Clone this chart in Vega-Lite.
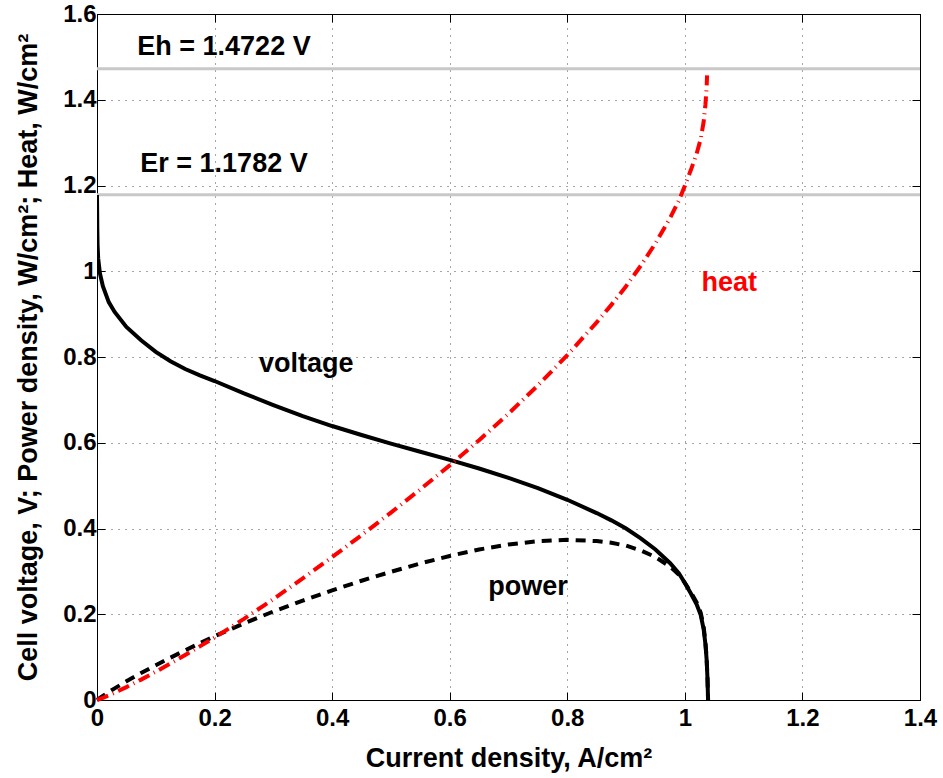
{
  "$schema": "https://vega.github.io/schema/vega-lite/v6.json",
  "width": 823,
  "height": 686,
  "autosize": "none",
  "padding": {"left": 97, "top": 14, "right": 23, "bottom": 78},
  "background": "white",
  "config": {
    "view": {"stroke": "#000", "strokeWidth": 1},
    "font": "Liberation Sans",
    "axis": {
      "labelFont": "Liberation Sans", "labelFontWeight": "bold", "labelFontSize": 24, "labelColor": "#000",
      "titleFont": "Liberation Sans", "titleFontWeight": "bold", "titleFontSize": 27, "titleColor": "#000",
      "domainColor": "#000", "tickColor": "#000", "gridColor": "#000", "gridOpacity": 0.7, "gridDash": [1, 6], "gridWidth": 1
    }
  },
  "datasets": {
    "voltage": [
      {"i": 0, "v": 1.178}, {"i": 0.0005, "v": 1.10}, {"i": 0.001, "v": 1.06}, {"i": 0.002, "v": 1.03},
      {"i": 0.005, "v": 0.995}, {"i": 0.01, "v": 0.965}, {"i": 0.02, "v": 0.928}, {"i": 0.03, "v": 0.905},
      {"i": 0.05, "v": 0.870}, {"i": 0.075, "v": 0.839}, {"i": 0.1, "v": 0.812}, {"i": 0.125, "v": 0.790},
      {"i": 0.15, "v": 0.772}, {"i": 0.175, "v": 0.757}, {"i": 0.2, "v": 0.744}, {"i": 0.25, "v": 0.715},
      {"i": 0.3, "v": 0.688}, {"i": 0.35, "v": 0.662}, {"i": 0.4, "v": 0.639}, {"i": 0.45, "v": 0.618},
      {"i": 0.5, "v": 0.598}, {"i": 0.55, "v": 0.579}, {"i": 0.6, "v": 0.560}, {"i": 0.65, "v": 0.540},
      {"i": 0.7, "v": 0.518}, {"i": 0.75, "v": 0.494}, {"i": 0.8, "v": 0.467}, {"i": 0.85, "v": 0.436},
      {"i": 0.875, "v": 0.419}, {"i": 0.9, "v": 0.400}, {"i": 0.925, "v": 0.377}, {"i": 0.95, "v": 0.351},
      {"i": 0.975, "v": 0.319}, {"i": 0.99, "v": 0.295}, {"i": 1.0, "v": 0.273}, {"i": 1.01, "v": 0.249},
      {"i": 1.02, "v": 0.223}, {"i": 1.027, "v": 0.198}, {"i": 1.032, "v": 0.165}, {"i": 1.035, "v": 0.130},
      {"i": 1.037, "v": 0.095}, {"i": 1.0385, "v": 0.05}, {"i": 1.0395, "v": 0}
    ],
    "power": [
      {"i": 0, "v": 0}, {"i": 0.005, "v": 0.005}, {"i": 0.01, "v": 0.00965}, {"i": 0.02, "v": 0.01856},
      {"i": 0.03, "v": 0.02715}, {"i": 0.05, "v": 0.0435}, {"i": 0.075, "v": 0.0629}, {"i": 0.1, "v": 0.0812},
      {"i": 0.125, "v": 0.0988}, {"i": 0.15, "v": 0.1158}, {"i": 0.175, "v": 0.1325}, {"i": 0.2, "v": 0.1488},
      {"i": 0.25, "v": 0.1788}, {"i": 0.3, "v": 0.2064}, {"i": 0.35, "v": 0.2317}, {"i": 0.4, "v": 0.2556},
      {"i": 0.45, "v": 0.2781}, {"i": 0.5, "v": 0.299}, {"i": 0.55, "v": 0.3185}, {"i": 0.6, "v": 0.336},
      {"i": 0.65, "v": 0.351}, {"i": 0.7, "v": 0.3626}, {"i": 0.75, "v": 0.3705}, {"i": 0.8, "v": 0.3736},
      {"i": 0.85, "v": 0.3706}, {"i": 0.875, "v": 0.3666}, {"i": 0.9, "v": 0.36}, {"i": 0.925, "v": 0.3487},
      {"i": 0.95, "v": 0.3335}, {"i": 0.975, "v": 0.311}, {"i": 0.99, "v": 0.2921}, {"i": 1.0, "v": 0.273},
      {"i": 1.01, "v": 0.2515}, {"i": 1.02, "v": 0.2275}, {"i": 1.027, "v": 0.2033}, {"i": 1.032, "v": 0.1703},
      {"i": 1.035, "v": 0.1346}, {"i": 1.037, "v": 0.0985}, {"i": 1.0385, "v": 0.0519}, {"i": 1.0395, "v": 0}
    ],
    "heat": [
      {"i": 0, "v": 0}, {"i": 0.005, "v": 0.0024}, {"i": 0.01, "v": 0.0051}, {"i": 0.02, "v": 0.0109},
      {"i": 0.03, "v": 0.017}, {"i": 0.05, "v": 0.0301}, {"i": 0.075, "v": 0.0475}, {"i": 0.1, "v": 0.066},
      {"i": 0.125, "v": 0.0853}, {"i": 0.15, "v": 0.105}, {"i": 0.175, "v": 0.1251}, {"i": 0.2, "v": 0.1456},
      {"i": 0.25, "v": 0.1893}, {"i": 0.3, "v": 0.2353}, {"i": 0.35, "v": 0.2836}, {"i": 0.4, "v": 0.3333},
      {"i": 0.45, "v": 0.3844}, {"i": 0.5, "v": 0.4371}, {"i": 0.55, "v": 0.4913}, {"i": 0.6, "v": 0.5473},
      {"i": 0.65, "v": 0.6059}, {"i": 0.7, "v": 0.6679}, {"i": 0.75, "v": 0.7337}, {"i": 0.8, "v": 0.8042},
      {"i": 0.85, "v": 0.8808}, {"i": 0.875, "v": 0.9216}, {"i": 0.9, "v": 0.965}, {"i": 0.925, "v": 1.0131},
      {"i": 0.95, "v": 1.0651}, {"i": 0.975, "v": 1.1244}, {"i": 0.99, "v": 1.1654}, {"i": 1.0, "v": 1.1992},
      {"i": 1.01, "v": 1.2354}, {"i": 1.02, "v": 1.2742}, {"i": 1.027, "v": 1.3086}, {"i": 1.032, "v": 1.3489},
      {"i": 1.035, "v": 1.389}, {"i": 1.037, "v": 1.428}, {"i": 1.0378, "v": 1.457}
    ],
    "refs": [{"name": "Eh", "v": 1.4722}, {"name": "Er", "v": 1.1782}],
    "labels": [
      {"i": 0.216, "v": 1.505, "text": "Eh = 1.4722 V"},
      {"i": 0.216, "v": 1.2326, "text": "Er = 1.1782 V"},
      {"i": 0.356, "v": 0.764, "text": "voltage"},
      {"i": 0.733, "v": 0.245, "text": "power"}
    ],
    "heatlabel": [{"i": 1.0757, "v": 0.954, "text": "heat"}]
  },
  "resolve": {"axis": {"x": "independent", "y": "independent"}},
  "layer": [
    {
      "data": {"name": "refs"},
      "mark": {"type": "rule", "color": "#c8c8c8", "strokeWidth": 3},
      "encoding": {
        "y": {"field": "v", "type": "quantitative", "scale": {"domain": [0, 1.6], "nice": false}, "axis": null}
      }
    },
    {
      "data": {"name": "voltage"},
      "mark": {"type": "line", "color": "#000", "strokeWidth": 4, "clip": true},
      "encoding": {
        "x": {"field": "i", "type": "quantitative", "scale": {"domain": [0, 1.4], "nice": false},
          "axis": {"orient": "bottom", "values": [0, 0.2, 0.4, 0.6, 0.8, 1, 1.2, 1.4], "format": "~g", "grid": true,
            "tickSize": -8, "labelPadding": 33, "labelBaseline": "alphabetic", "title": "Current density, A/cm²", "titleY": 66, "titleBaseline": "alphabetic", "labelFlush": false}},
        "y": {"field": "v", "type": "quantitative", "scale": {"domain": [0, 1.6], "nice": false},
          "axis": {"orient": "left", "values": [0, 0.2, 0.4, 0.6, 0.8, 1, 1.2, 1.4, 1.6], "format": "~g", "grid": true,
            "tickSize": -8, "labelPadding": 9, "title": "Cell voltage, V; Power density, W/cm²; Heat, W/cm²",
            "titleX": -69, "titleY": 343, "titleAngle": -90, "titleAlign": "center", "titleBaseline": "middle", "labelFlush": false}}
      }
    },
    {
      "data": {"name": "power"},
      "mark": {"type": "line", "color": "#000", "strokeWidth": 4, "strokeDash": [10, 7]},
      "encoding": {
        "x": {"field": "i", "type": "quantitative",
          "axis": {"orient": "top", "values": [0, 0.2, 0.4, 0.6, 0.8, 1, 1.2, 1.4], "labels": false, "grid": false, "tickSize": -8, "title": null}},
        "y": {"field": "v", "type": "quantitative",
          "axis": {"orient": "right", "values": [0, 0.2, 0.4, 0.6, 0.8, 1, 1.2, 1.4, 1.6], "labels": false, "grid": false, "tickSize": -8, "title": null}}
      }
    },
    {
      "data": {"name": "heat"},
      "mark": {"type": "line", "color": "#ff0000", "strokeWidth": 4, "strokeDash": [12, 5, 1, 5]},
      "encoding": {
        "x": {"field": "i", "type": "quantitative", "axis": null},
        "y": {"field": "v", "type": "quantitative", "axis": null}
      }
    },
    {
      "data": {"name": "labels"},
      "mark": {"type": "text", "font": "Liberation Sans", "fontWeight": "bold", "fontSize": 27, "align": "center", "baseline": "alphabetic", "color": "#000"},
      "encoding": {
        "x": {"field": "i", "type": "quantitative", "axis": null},
        "y": {"field": "v", "type": "quantitative", "axis": null},
        "text": {"field": "text"}
      }
    },
    {
      "data": {"name": "heatlabel"},
      "mark": {"type": "text", "font": "Liberation Sans", "fontWeight": "bold", "fontSize": 27, "align": "center", "baseline": "alphabetic", "color": "#ff0000"},
      "encoding": {
        "x": {"field": "i", "type": "quantitative", "axis": null},
        "y": {"field": "v", "type": "quantitative", "axis": null},
        "text": {"field": "text"}
      }
    }
  ]
}
